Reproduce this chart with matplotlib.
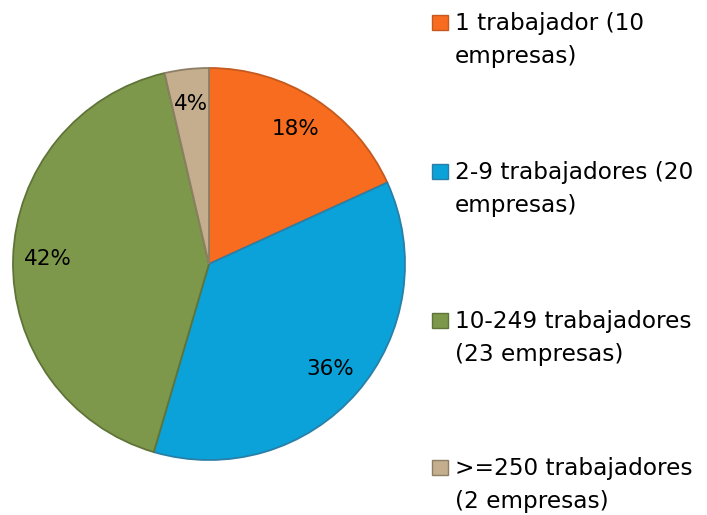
import matplotlib.pyplot as plt
from matplotlib.patches import Rectangle

# Data
categories = ["1 trabajador (10\nempresas)", "2-9 trabajadores (20\nempresas)",
              "10-249 trabajadores\n(23 empresas)", ">=250 trabajadores\n(2 empresas)"]
empresas = [10, 20, 23, 2]
colors = ["#F76C1E", "#0AA2D8", "#7E984B", "#C4AE8E"]
edges = ["#C45A1F", "#2A7FA8", "#5F7437", "#8E7E66"]

plt.rcParams['font.family'] = ['DejaVu Sans']

fig = plt.figure(figsize=(7.07, 5.15), dpi=100)
W, H = 707, 515
cx, cy, r = 209, 515 - 264, 196
ax = fig.add_axes([(cx - r) / W, (cy - r) / H, 2 * r / W, 2 * r / H])

wedges, texts, autotexts = ax.pie(
    empresas, colors=colors, startangle=90, counterclock=False,
    autopct=lambda p: f"{p:.0f}%", pctdistance=0.82,
    wedgeprops=dict(linewidth=1.3),
    textprops=dict(fontsize=15.5, color="black"))
for w, ec in zip(wedges, edges):
    w.set_edgecolor(ec)
ax.set_xlim(-1, 1)
ax.set_ylim(-1, 1)
ax.set_aspect("equal")

# legend drawn by hand (pixel row of each entry's marker top)
tops = [15, 164, 313, 460]
for lab, c, ec, top in zip(categories, colors, edges, tops):
    fig.patches.append(Rectangle((432 / W, 1 - (top + 15) / H), 16 / W, 15 / H,
                                 transform=fig.transFigure, facecolor=c,
                                 edgecolor=ec, linewidth=1))
    for i, line in enumerate(lab.split("\n")):
        fig.text(455 / W, 1 - (top + 15 + 33 * i) / H, line, fontsize=16.7,
                 va="baseline", ha="left")

fig.savefig("out.png", dpi=100)
